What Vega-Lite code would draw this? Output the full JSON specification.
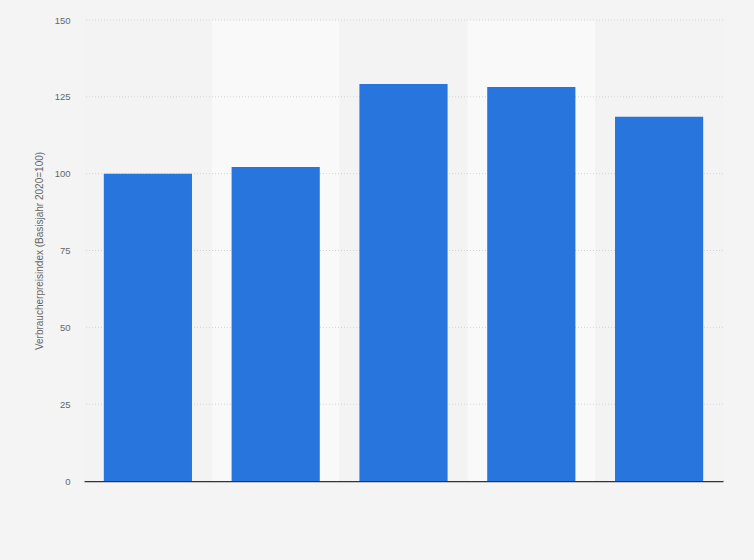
{
  "$schema": "https://vega.github.io/schema/vega-lite/v6.json",
  "width": 639,
  "height": 461,
  "autosize": {"type": "none"},
  "padding": {"left": 84, "top": 20, "right": 31, "bottom": 79},
  "background": "#f4f4f4",
  "config": {
    "view": {"stroke": null, "fill": "#f3f3f3"},
    "font": "Liberation Sans"
  },
  "datasets": {
    "cpi": [
      {"jahr": "2020", "index": 100.0, "shade": "a"},
      {"jahr": "2021", "index": 102.2, "shade": "b"},
      {"jahr": "2022", "index": 129.2, "shade": "a"},
      {"jahr": "2023", "index": 128.2, "shade": "b"},
      {"jahr": "2024", "index": 118.5, "shade": "a"}
    ],
    "grid": [
      {"v": 25}, {"v": 50}, {"v": 75}, {"v": 100}, {"v": 125}, {"v": 150}
    ]
  },
  "layer": [
    {
      "data": {"name": "cpi"},
      "mark": {"type": "rect"},
      "encoding": {
        "x": {"field": "jahr", "type": "nominal", "sort": null, "scale": {"paddingInner": 0, "paddingOuter": 0}, "axis": null},
        "color": {"field": "shade", "type": "nominal", "scale": {"domain": ["a", "b"], "range": ["#f3f3f3", "#f9f9f9"]}, "legend": null}
      }
    },
    {
      "data": {"name": "grid"},
      "mark": {"type": "rule", "color": "#d2d2d2", "strokeDash": [1, 2], "strokeWidth": 1},
      "encoding": {
        "y": {
          "field": "v", "type": "quantitative", "scale": {"domain": [0, 150], "nice": false},
          "axis": {
            "title": "Verbraucherpreisindex (Basisjahr 2020=100)",
            "titleFont": "Liberation Sans", "titleFontSize": 10, "titleFontWeight": "normal", "titleColor": "#666666", "titlePadding": 10,
            "values": [0, 25, 50, 75, 100, 125, 150],
            "labelFont": "Liberation Sans", "labelFontSize": 9.5, "labelColor": "#666666", "labelPadding": 14,
            "ticks": false, "domain": false, "grid": false
          }
        }
      }
    },
    {
      "data": {"name": "cpi"},
      "mark": {"type": "bar", "color": "#2876dd"},
      "encoding": {
        "x": {
          "field": "jahr", "type": "nominal", "sort": null,
          "scale": {"paddingInner": 0.31, "paddingOuter": 0.155},
          "axis": {"title": null, "labels": false, "ticks": false, "domain": true, "domainColor": "#333333", "domainWidth": 1.5, "grid": false}
        },
        "y": {
          "field": "index", "type": "quantitative",
          "scale": {"domain": [0, 150], "nice": false},
          "axis": {
            "title": "Verbraucherpreisindex (Basisjahr 2020=100)",
            "titleFont": "Liberation Sans", "titleFontSize": 10, "titleFontWeight": "normal", "titleColor": "#666666", "titlePadding": 10,
            "values": [0, 25, 50, 75, 100, 125, 150],
            "labelFont": "Liberation Sans", "labelFontSize": 9.5, "labelColor": "#666666", "labelPadding": 14,
            "ticks": false, "domain": false, "grid": false
          }
        }
      }
    }
  ],
  "resolve": {"scale": {"x": "independent", "color": "independent"}}
}
